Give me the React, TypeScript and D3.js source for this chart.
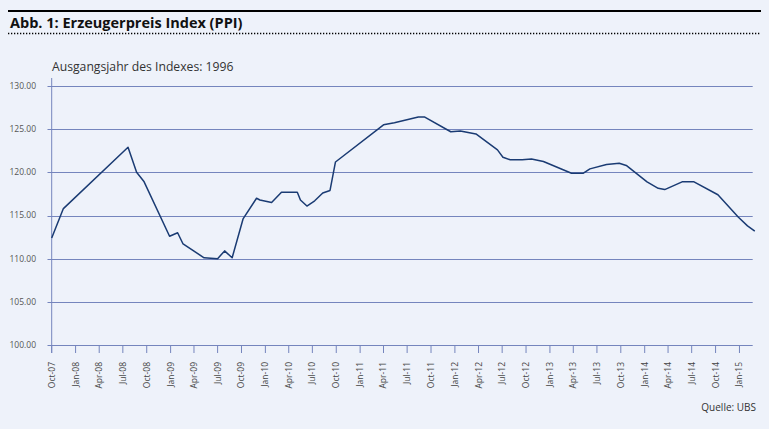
import React from "react";
import * as d3 from "d3";

const dates: string[] = [
  "2007-10-01","2007-11-15","2008-07-21","2008-08-23","2008-09-21","2008-12-28","2009-01-28","2009-02-18",
  "2009-05-10","2009-07-01","2009-07-28","2009-08-26","2009-10-07","2009-11-28","2009-12-11","2010-01-25",
  "2010-03-04","2010-05-04","2010-05-16","2010-06-10","2010-07-10","2010-08-10","2010-09-07","2010-09-28",
  "2011-04-01","2011-05-13","2011-08-13","2011-09-07","2011-12-16","2012-01-22","2012-03-22","2012-06-13",
  "2012-07-04","2012-08-01","2012-09-16","2012-10-22","2012-12-07","2013-03-25","2013-05-10","2013-06-04",
  "2013-08-07","2013-09-25","2013-10-22","2014-01-10","2014-02-22","2014-03-19","2014-05-25","2014-07-10",
  "2014-10-10","2014-12-28","2015-02-01","2015-03-01"
];
const ppi: number[] = [
  112.4,115.8,122.9,120.0,118.9,112.6,113.0,111.7,
  110.1,110.0,110.9,110.1,114.6,117.0,116.8,116.5,
  117.7,117.7,116.8,116.1,116.7,117.6,117.9,121.2,
  125.5,125.75,126.4,126.4,124.7,124.8,124.45,122.6,
  121.75,121.45,121.45,121.55,121.25,119.9,119.9,120.4,
  120.9,121.05,120.8,118.9,118.15,118.0,118.9,118.9,
  117.4,114.8,113.8,113.2
];
const yTicks: number[] = [100, 105, 110, 115, 120, 125, 130];
const xTickDates: string[] = [
  "2007-10-01","2008-01-01","2008-04-01","2008-07-01","2008-10-01","2009-01-01","2009-04-01","2009-07-01",
  "2009-10-01","2010-01-01","2010-04-01","2010-07-01","2010-10-01","2011-01-01","2011-04-01","2011-07-01",
  "2011-10-01","2012-01-01","2012-04-01","2012-07-01","2012-10-01","2013-01-01","2013-04-01","2013-07-01",
  "2013-10-01","2014-01-01","2014-04-01","2014-07-01","2014-10-01","2015-01-01"
];
const title = "Abb. 1: Erzeugerpreis Index (PPI)";
const subtitle = "Ausgangsjahr des Indexes: 1996";
const source = "Quelle: UBS";

const parse = d3.utcParse("%Y-%m-%d");
const fmt = d3.utcFormat("%b-%y");

export default function App() {
  const W = 769, H = 429;
  const x = d3.scaleUtc()
    .domain([parse("2007-10-01")!, parse("2015-02-21")!])
    .range([51.7, 752.7]);
  const y = d3.scaleLinear().domain([100, 130]).range([345, 86]);
  const pts = dates.map((d, i) => [x(parse(d)!), y(ppi[i])] as [number, number]);
  const line = d3.line()(pts) || "";
  const grid = "#7585bd";
  const font = "'Open Sans', 'Noto Sans', sans-serif";
  return (
    <div style={{ position: "absolute", left: 0, top: 0 }}>
      <svg width={W} height={H} style={{ display: "block", background: "#eef2fa" }}>
        <rect x={0} y={0} width={W} height={H} fill="#eef2fa" />
        <line x1={8} x2={761} y1={11} y2={11} stroke="#000" strokeWidth={2.2} />
        <text x={10} y={28} fontFamily={font} fontWeight={700} fontSize={14.5} fill="#111">{title}</text>
        <line x1={8} x2={761} y1={33.5} y2={33.5} stroke="#000" strokeWidth={1.3} strokeDasharray="1.3,1.7" />
        <text x={52} y={71} fontFamily={font} fontSize={12.2} fill="#333">{subtitle}</text>
        {yTicks.map((t) => (
          <g key={t}>
            <line x1={47.5} x2={752.7} y1={Math.round(y(t)) + 0.5} y2={Math.round(y(t)) + 0.5} stroke={grid} strokeWidth={1} />
            <text x={36} y={y(t)} dy="0.35em" textAnchor="end" fontFamily={font} fontSize={8.5} fill="#555">{t.toFixed(2)}</text>
          </g>
        ))}
        <line x1={51.7} x2={51.7} y1={78} y2={353} stroke={grid} strokeWidth={1} />
        {xTickDates.map((d) => {
          const xx = x(parse(d)!);
          return (
            <g key={d}>
              <line x1={xx} x2={xx} y1={345} y2={353} stroke={grid} strokeWidth={1} />
              <text transform={`translate(${xx},362) rotate(-90)`} dy="0.35em" textAnchor="end" fontFamily={font} fontSize={8.5} fill="#444">{fmt(parse(d)!)}</text>
            </g>
          );
        })}
        <path d={line} fill="none" stroke="#1a3b73" strokeWidth={1.5} strokeLinejoin="round" />
        <text x={756} y={411} textAnchor="end" fontFamily={font} fontSize={10} fill="#333">{source}</text>
      </svg>
    </div>
  );
}
